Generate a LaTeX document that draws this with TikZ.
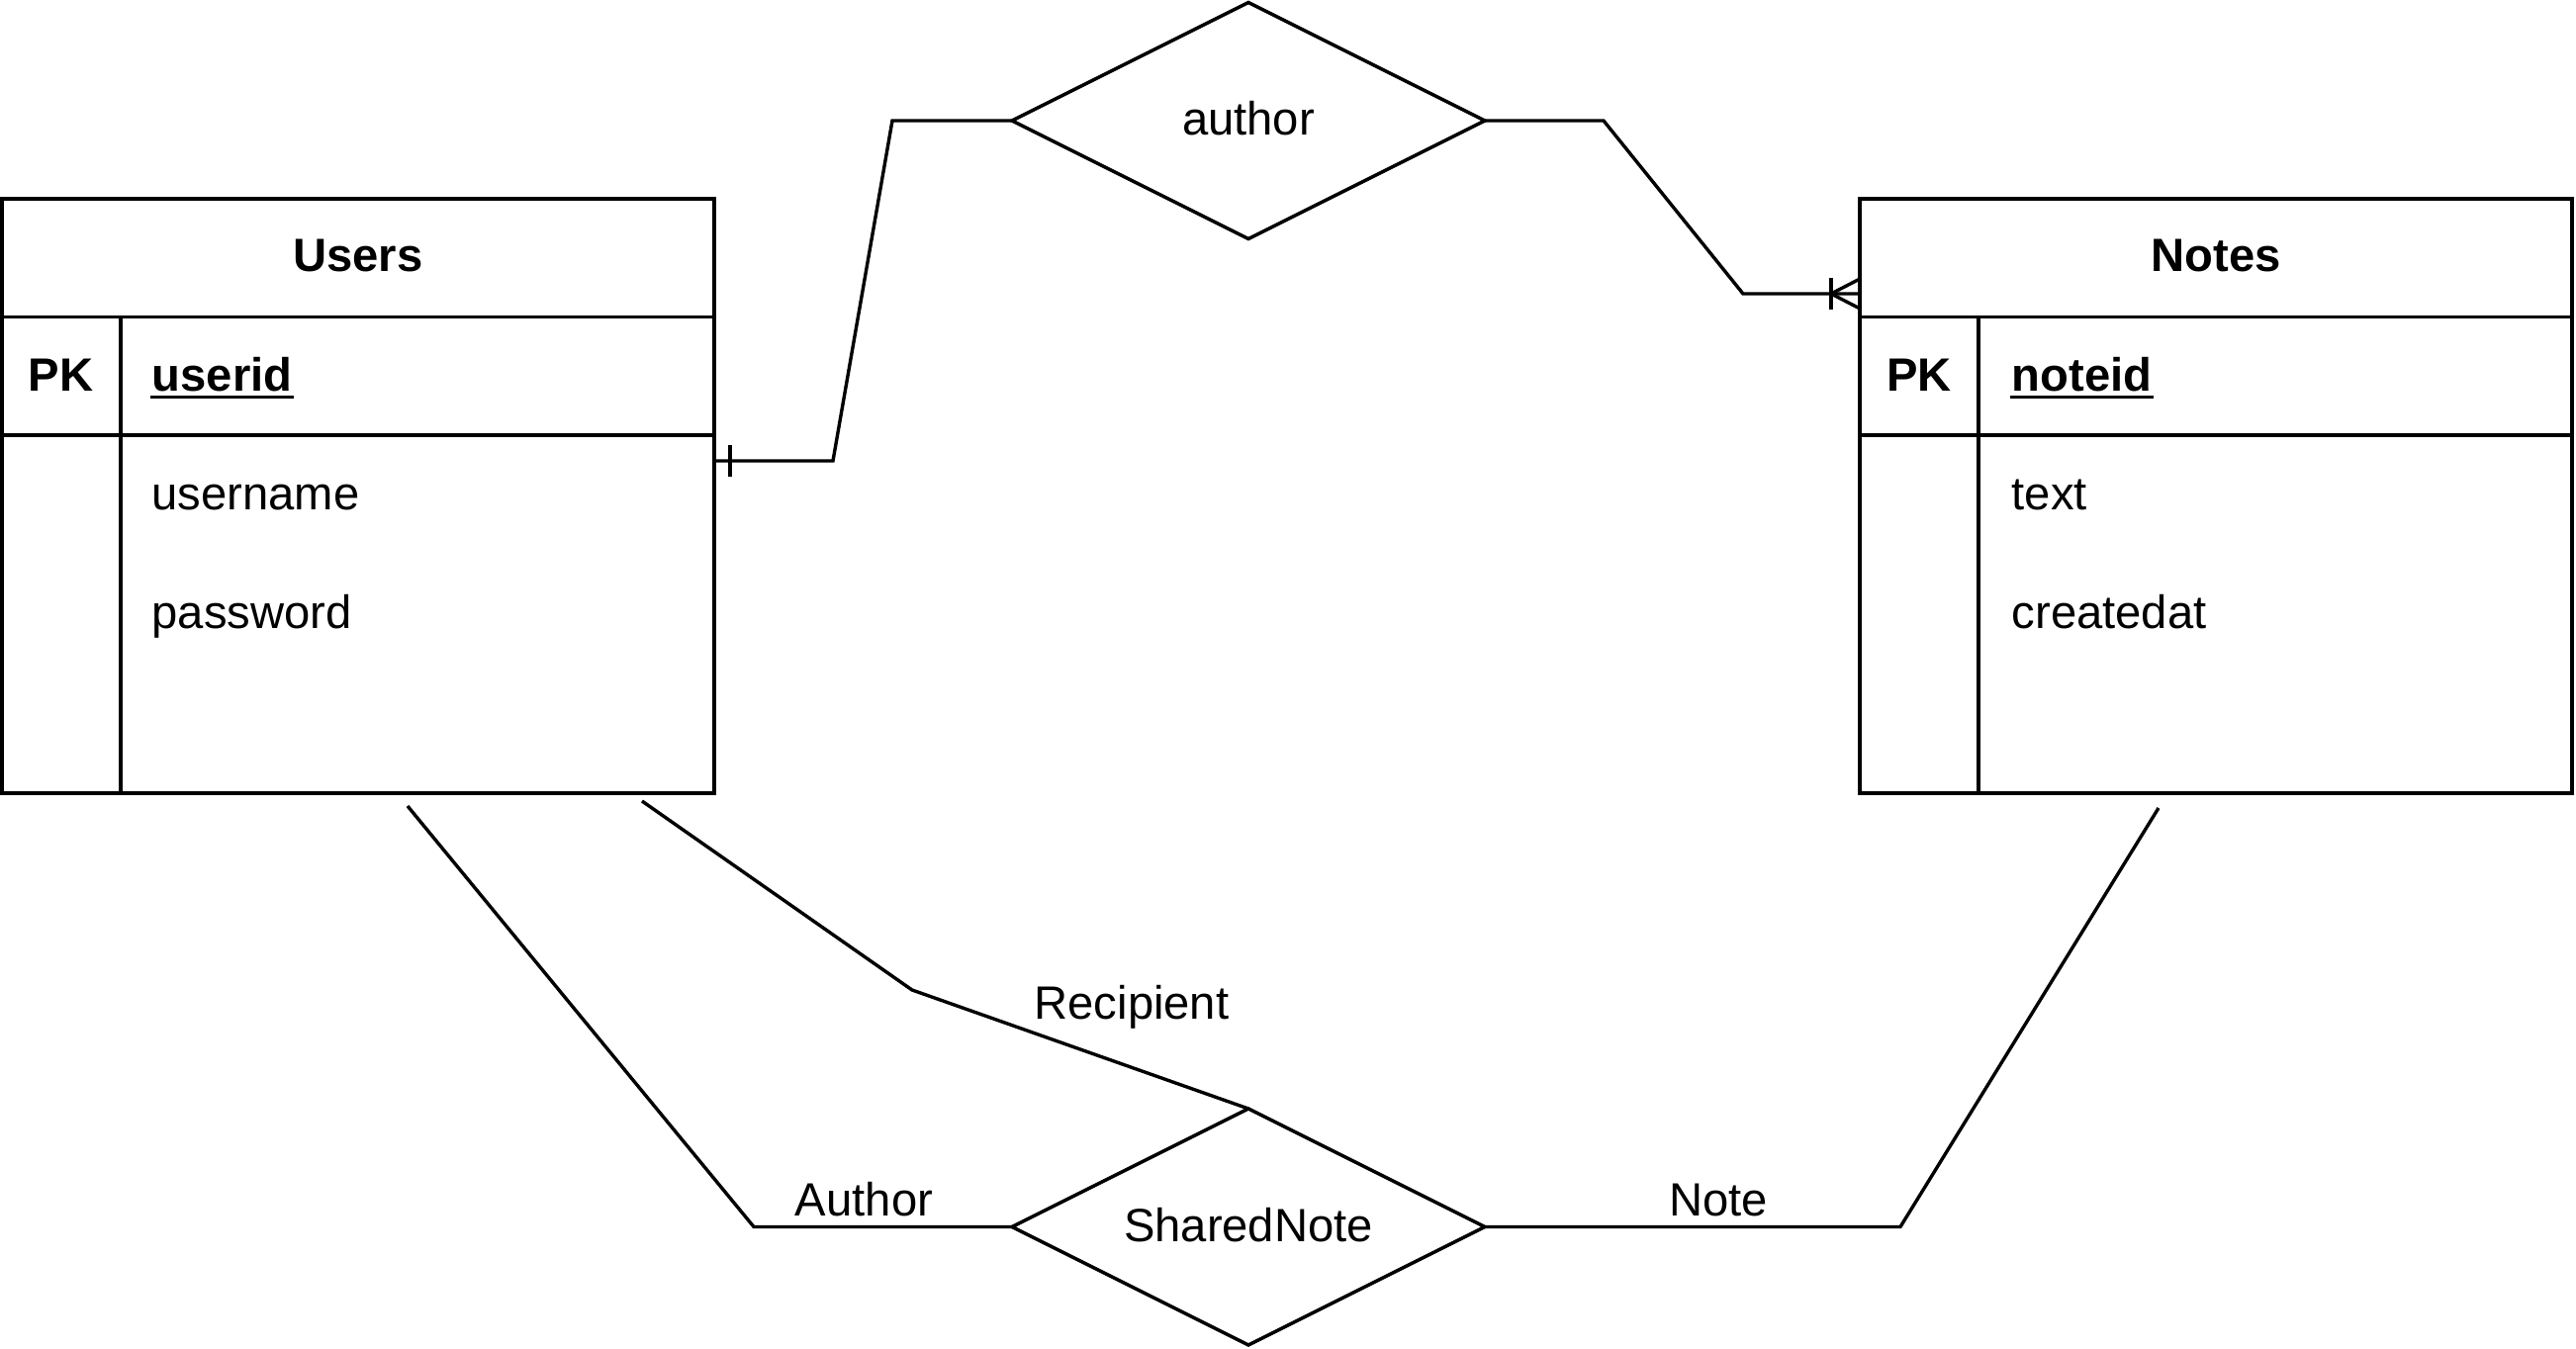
\documentclass[tikz,border=0pt]{standalone}
\usepackage{fontspec}
\setmainfont{Liberation Sans}
\usetikzlibrary{shapes.geometric}
\begin{document}
\begin{tikzpicture}[x=0.5pt,y=-0.5pt, line width=1.7pt,
  every node/.style={font=\fontsize{23.6}{28}\selectfont},
  tbl/.style={draw, rectangle, minimum width=360pt, minimum height=300.5pt, inner sep=0pt, outer sep=0pt},
  rel/.style={draw, diamond, aspect=2, minimum width=239pt, minimum height=119.5pt, inner sep=0pt, outer sep=0pt},
  lbl/.style={inner sep=0pt, anchor=base},
  fld/.style={inner sep=0pt, anchor=base west},
  uline/.style={line width=1.65pt}]
\useasboundingbox (0,0) rectangle (2604,1364);
% tables
\node[tbl] (users) at (362,501.5) {};
\node[tbl] (notes) at (2240,501.5) {};
\foreach \t in {users,notes}{
  \draw ([yshift=-59.75pt]\t.north west) -- ([yshift=-59.75pt]\t.north east);
  \draw ([yshift=-119.5pt]\t.north west) -- ([yshift=-119.5pt]\t.north east);
  \draw ([xshift=60pt,yshift=-59.75pt]\t.north west) -- ([xshift=60pt]\t.south west);
}
% Users texts
\node[lbl] (usersT) at (362,275) {\bfseries Users};
\node[lbl] (usersPK) at (61.5,395) {\bfseries PK};
\node[fld] (userid) at (152,395) {\bfseries userid};
\draw[uline] ([yshift=-3.3pt]userid.base west) -- ([yshift=-3.3pt]userid.base east);
\node[fld] (username) at (152,515) {username};
\node[fld] (password) at (152,635) {password};
% Notes texts
\node[lbl] (notesT) at (2240,275) {\bfseries Notes};
\node[lbl] (notesPK) at (1940,395) {\bfseries PK};
\node[fld] (noteid) at (2032,395) {\bfseries noteid};
\draw[uline] ([yshift=-3.3pt]noteid.base west) -- ([yshift=-3.3pt]noteid.base east);
\node[fld] (text) at (2032,515) {text};
\node[fld] (createdat) at (2032,635) {createdat};
% relationships
\node[rel] (author) at (1262,122) {};
\node[lbl] (authorT) at (1262,137) {author};
\node[rel] (shared) at (1262,1240.5) {};
\node[lbl] (sharedT) at (1262,1255) {SharedNote};
% author connectors
\coordinate (uA) at (738,466);
\draw (users.east |- uA) -- (842,466) -- (902,122) -- (author.west);
\draw ([yshift=-8pt]uA) -- ([yshift=8pt]uA);
\coordinate (nA) at (1851,297);
\draw (author.east) -- (1621,122) -- (1762,297) -- (notes.west |- nA);
\draw ([yshift=-8pt]nA) -- ([yshift=8pt]nA);
\coordinate (nF1) at (1880,282);
\coordinate (nF2) at (1880,312);
\draw (notes.west |- nF1) -- (nA) -- (notes.west |- nF2);
% shared note connectors
\coordinate (u1) at (412,815);
\draw (u1) -- (762,1240.5) -- (shared.west);
\coordinate (u2) at (649,810);
\draw (u2) -- (922,1001) -- (shared.north);
\coordinate (n1) at (2182,817);
\draw (n1) -- (1921,1240.5) -- (shared.east);
\node[lbl] (lAuthor) at (873.5,1229) {Author};
\node[lbl] (lRecipient) at (1144,1030) {Recipient};
\node[lbl] (lNote) at (1737,1229) {Note};
\end{tikzpicture}
\end{document}
